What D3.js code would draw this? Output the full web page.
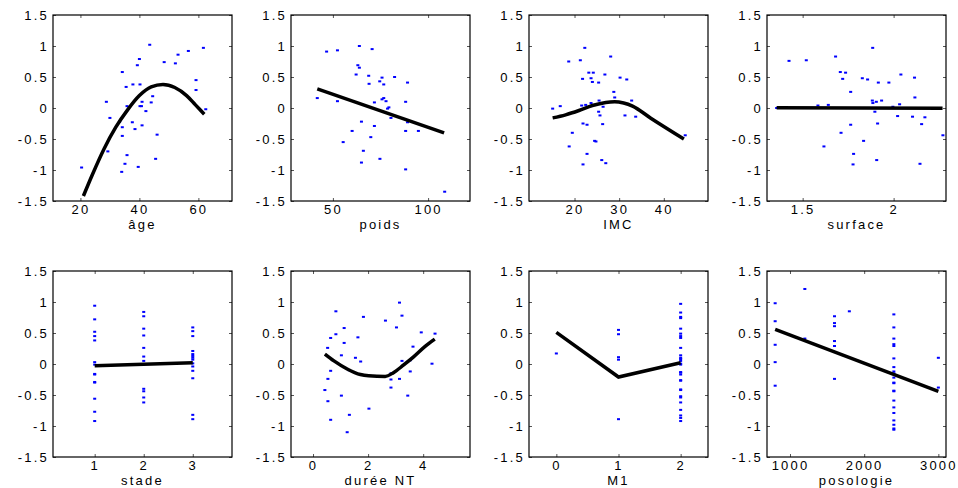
<!DOCTYPE html>
<html>
<head>
<meta charset="utf-8">
<script src="https://cdn.jsdelivr.net/npm/d3@7"></script>
<style>
  body { margin: 0; background: #fff; }
  svg text { font-family: "Liberation Sans", Arial, sans-serif; font-size: 13px; fill: #000; letter-spacing: 2.2px; }
</style>
</head>
<body>
<div id="chart"></div>
<script>
// partial residuals, one panel per variable
const yTicks = [-1.5, -1, -0.5, 0, 0.5, 1, 1.5];

const ageX = [20.4, 28.8, 30.0, 29.3, 33.3, 34.2, 34.2, 34.2, 34.0, 35.1, 35.5, 35.8, 35.8, 37.8, 37.6, 38.5, 39.3, 40.0, 40.2, 39.6, 40.2, 40.7, 40.9, 40.9, 42.2, 43.5, 44.0, 44.5, 45.5, 46.0, 48.4, 52.2, 53.1, 56.6, 59.2, 59.2, 61.7, 62.5];
const ageY = [-0.96, 0.10, -0.16, -0.70, -0.22, 0.58, -0.31, -0.45, -1.03, -0.90, 0.34, 0.03, -0.76, 0.38, -0.23, -0.34, 0.69, 0.79, 0.38, -0.95, 0.03, 0.03, 0.10, -0.28, -0.05, 1.02, 0.09, 0.19, -0.82, -0.43, 0.74, 0.72, 0.86, 0.92, 0.45, 0.29, 0.97, -0.02];
const ageFitX = [21, 24, 28, 32, 36, 40, 44, 48, 52, 56, 59, 62];
const ageFitY = [-1.42, -1.08, -0.66, -0.31, -0.03, 0.20, 0.34, 0.38, 0.33, 0.20, 0.05, -0.10];
const ageTicks = [20, 40, 60];

const poidsX = [41.8, 46.7, 52.4, 52.4, 55.4, 60.1, 62.2, 63.1, 63.9, 63.9, 65.0, 65.0, 66.0, 68.8, 69.0, 69.9, 70.6, 71.8, 71.8, 74.6, 74.7, 75.8, 75.8, 76.7, 76.7, 77.9, 78.7, 79.4, 80.5, 82.4, 88.2, 88.2, 88.2, 89.2, 89.2, 94.9, 108.7];
const poidsY = [0.16, 0.91, 0.93, 0.11, -0.55, -0.37, 0.54, 0.69, 0.65, 1.0, -0.22, -0.88, -0.69, 0.52, 0.39, -0.47, 0.95, 0.09, -0.29, 0.43, -0.82, 0.49, 0.14, 0.38, 0.16, 0.11, -0.01, 0.01, -0.16, 0.50, 0.10, -0.37, -0.99, 0.41, -0.23, -0.37, -1.35];
const poidsFitX = [41.8, 108.4];
const poidsFitY = [0.31, -0.40];
const poidsTicks = [50, 100];

const imcX = [15.1, 16.8, 18.7, 18.8, 19.5, 21.3, 21.6, 21.8, 21.9, 21.9, 22.3, 22.5, 22.8, 22.8, 23.2, 23.7, 23.7, 24.0, 24.2, 24.5, 24.8, 25.4, 25.5, 25.4, 25.7, 26.3, 26.4, 26.1, 26.8, 27.0, 28.1, 28.8, 29.0, 30.2, 31.3, 31.7, 32.8, 33.7, 44.8];
const imcY = [-0.01, 0.03, 0.75, -0.62, -0.40, 0.77, 0.04, 0.47, -0.25, -0.91, 0.97, 0.05, -0.27, -0.74, 0.57, 0.48, 0.08, 0.42, 0.57, -0.53, -0.54, 0.41, 0.12, -0.06, -0.12, -0.26, 0.02, -0.84, 0.54, -0.89, 0.83, 0.26, 0.17, 0.49, -0.12, 0.46, 0.12, -0.14, -0.44];
const imcFitX = [15.1, 18, 21, 24, 27, 29, 31, 33, 37, 44.5];
const imcFitY = [-0.16, -0.11, -0.04, 0.04, 0.09, 0.10, 0.08, 0.03, -0.16, -0.50];
const imcTicks = [20, 30, 40];

const surfX = [1.357, 1.425, 1.520, 1.584, 1.617, 1.641, 1.681, 1.707, 1.711, 1.720, 1.736, 1.764, 1.764, 1.780, 1.777, 1.828, 1.835, 1.857, 1.885, 1.883, 1.886, 1.897, 1.905, 1.907, 1.912, 1.916, 1.934, 1.974, 1.996, 2.022, 2.033, 2.040, 2.104, 2.115, 2.117, 2.145, 2.154, 2.172, 2.271];
const surfY = [0.0, 0.76, 0.77, 0.04, -0.62, 0.05, 0.83, 0.58, -0.40, 0.47, 0.57, 0.26, -0.27, -0.74, -0.91, 0.48, -0.53, 0.46, 0.97, 0.12, 0.08, -0.06, 0.10, -0.84, -0.25, 0.41, 0.12, 0.41, 0.02, -0.13, 0.06, 0.54, -0.14, 0.49, 0.17, -0.90, -0.26, -0.15, -0.44];
const surfFitX = [1.357, 2.269];
const surfFitY = [0.005, -0.005];
const surfTicks = [1.5, 2];

const stadeX = [1, 1, 1, 1, 1, 1, 1, 1, 1, 1, 1, 1, 1, 1,
  2, 2, 2, 2, 2, 2, 2, 2, 2, 2, 2,
  3, 3, 3, 3, 3, 3, 3, 3, 3, 3, 3, 3, 3, 3];
const stadeY = [0.94, 0.72, 0.52, 0.45, 0.38, 0.03, -0.01, -0.16, -0.17, -0.29, -0.30, -0.56, -0.77, -0.92,
  0.84, 0.77, 0.57, 0.46, 0.26, 0.12, 0.05, -0.40, -0.44, -0.54, -0.62,
  0.59, 0.53, 0.45, 0.21, 0.16, 0.13, 0.10, 0.07, 0.01, -0.04, -0.11, -0.23, -0.82, -0.89];
const stadeFitX = [1, 2, 3];
const stadeFitY = [-0.03, -0.005, 0.02];
const stadeTicks = [1, 2, 3];

const dureeX = [0.43, 0.53, 0.54, 0.54, 0.64, 0.64, 0.64, 0.83, 0.83, 1.03, 1.03, 1.13, 1.13, 1.24, 1.31, 1.32, 1.54, 1.63, 1.73, 1.83, 2.03, 2.63, 2.83, 2.83, 2.83, 3.03, 3.14, 3.14, 3.23, 3.23, 3.44, 3.53, 3.53, 3.63, 3.93, 4.32, 4.43];
const dureeY = [-0.42, 0.26, -0.24, -0.60, 0.42, -0.11, -0.90, 0.85, 0.48, 0.14, -0.51, 0.58, 0.34, -1.10, -0.10, -0.82, 0.10, 0.43, 0.04, 0.76, -0.72, 0.70, -0.15, -0.25, -0.38, 0.59, 0.99, -0.24, 0.78, 0.05, -0.51, 0.06, -0.12, 0.28, 0.51, 0.005, 0.49];
const dureeFitX = [0.43, 0.76, 1.24, 1.72, 2.02, 2.62, 2.92, 3.28, 3.64, 4.06, 4.42];
const dureeFitY = [0.16, 0.05, -0.08, -0.17, -0.19, -0.20, -0.14, -0.02, 0.11, 0.28, 0.40];
const dureeTicks = [0, 2, 4];

const m1X = [0, 1, 1, 1, 1, 1,
  2, 2, 2, 2, 2, 2, 2, 2, 2, 2, 2, 2, 2, 2, 2, 2, 2, 2, 2, 2, 2, 2, 2, 2, 2, 2, 2, 2, 2];
const m1Y = [0.17, 0.55, 0.48, 0.11, 0.07, -0.89,
  0.97, 0.83, 0.76, 0.74, 0.57, 0.49, 0.45, 0.42, 0.26, 0.14, 0.10, 0.08, 0.05, 0.005, -0.01, -0.13, -0.14, -0.17, -0.26, -0.27, -0.41, -0.42, -0.52, -0.54, -0.62, -0.74, -0.83, -0.87, -0.92];
const m1FitX = [0, 1, 2];
const m1FitY = [0.51, -0.21, 0.02];
const m1Ticks = [0, 1, 2];

const posoX = [800, 800, 800, 800, 800, 1200, 1200, 1600, 1600, 1600, 1600, 1600, 1600, 1800,
  2400, 2400, 2400, 2400, 2400, 2400, 2400, 2400, 2400, 2400, 2400, 2400, 2400, 2400, 2400, 2400, 2400, 2400, 2400, 2400, 2400,
  3000, 3000];
const posoY = [0.98, 0.69, 0.31, 0.03, -0.35, 1.21, 0.41, 0.77, 0.66, 0.61, 0.37, 0.29, -0.24, 0.85,
  0.80, 0.59, 0.41, 0.32, 0.29, 0.09, -0.05, -0.12, -0.15, -0.22, -0.30, -0.31, -0.43, -0.44, -0.59, -0.70, -0.79, -0.91, -0.98, -1.04, -1.06,
  0.10, -0.38];
const posoFitX = [800, 3000];
const posoFitY = [0.56, -0.44];
const posoTicks = [1000, 2000, 3000];

const width = 958;
const height = 488;
const colLeft = [53, 291, 529, 767];
const rowTop = [15, 271];
const pw = 179;
const ph = 186;

const panels = [
  { name: 'âge', xs: ageX, ys: ageY, fx: ageFitX, fy: ageFitY, ticks: ageTicks, dom: [10.7, 71.4], smooth: true },
  { name: 'poids', xs: poidsX, ys: poidsY, fx: poidsFitX, fy: poidsFitY, ticks: poidsTicks, dom: [28, 122] },
  { name: 'IMC', xs: imcX, ys: imcY, fx: imcFitX, fy: imcFitY, ticks: imcTicks, dom: [9.8, 49.9], smooth: true },
  { name: 'surface', xs: surfX, ys: surfY, fx: surfFitX, fy: surfFitY, ticks: surfTicks, dom: [1.304, 2.288] },
  { name: 'stade', xs: stadeX, ys: stadeY, fx: stadeFitX, fy: stadeFitY, ticks: stadeTicks, dom: [0.15, 3.8] },
  { name: 'durée NT', xs: dureeX, ys: dureeY, fx: dureeFitX, fy: dureeFitY, ticks: dureeTicks, dom: [-0.8, 5.7], smooth: true },
  { name: 'M1', xs: m1X, ys: m1Y, fx: m1FitX, fy: m1FitY, ticks: m1Ticks, dom: [-0.44, 2.44] },
  { name: 'posologie', xs: posoX, ys: posoY, fx: posoFitX, fy: posoFitY, ticks: posoTicks, dom: [690, 3103] }
];

const svg = d3.select('#chart')
  .append('svg')
  .attr('width', width)
  .attr('height', height)

const fmt = d => String(d);

panels.forEach((p, i) => {
  const left = colLeft[i % 4];
  const top = rowTop[Math.floor(i / 4)];

  const x = d3.scaleLinear().domain(p.dom).range([0, pw]);
  const y = d3.scaleLinear().domain([-1.5, 1.5]).range([ph, 0]);

  const g = svg.append('g')
    .attr('transform', `translate(${left}, ${top})`)

  // ticks on all four sides, pointing inward
  g.append('g')
    .attr('transform', `translate(0, ${ph})`)
    .call(d3.axisBottom(x).tickValues(p.ticks).tickFormat(fmt).tickSizeInner(-3).tickSizeOuter(0).tickPadding(4))
  g.append('g')
    .call(d3.axisTop(x).tickValues(p.ticks).tickFormat('').tickSizeInner(-3).tickSizeOuter(0))
  g.append('g')
    .call(d3.axisLeft(y).tickValues(yTicks).tickFormat(fmt).tickSizeInner(-3).tickSizeOuter(0).tickPadding(4))
  g.append('g')
    .attr('transform', `translate(${pw}, 0)`)
    .call(d3.axisRight(y).tickValues(yTicks).tickFormat('').tickSizeInner(-3).tickSizeOuter(0))

  g.selectAll('.domain').remove();
  g.selectAll('.tick line').attr('stroke', '#555');
  g.selectAll('.tick text').attr('font-size', null).attr('font-family', null);

  g.append('rect')
    .attr('width', pw)
    .attr('height', ph)
    .attr('fill', 'none')
    .attr('stroke', '#000')
    .attr('stroke-width', 1.2)

  g.selectAll('rect.pt')
    .data(p.xs)
    .enter()
    .append('rect')
    .attr('class', 'pt')
    .attr('x', d => x(d) - 1.5)
    .attr('y', (d, j) => y(p.ys[j]) - 1)
    .attr('width', 3)
    .attr('height', 2)
    .attr('fill', '#0000ff')

  const line = d3.line()
    .x(d => x(d[0]))
    .y(d => y(d[1]))
    .curve(p.smooth ? d3.curveMonotoneX : d3.curveLinear);

  g.append('path')
    .datum(p.fx.map((v, j) => [v, p.fy[j]]))
    .attr('d', line)
    .attr('fill', 'none')
    .attr('stroke', '#000')
    .attr('stroke-width', 3.5)

  g.append('text')
    .attr('x', pw / 2)
    .attr('y', ph + 28)
    .attr('text-anchor', 'middle')
    .text(p.name)
});
</script>
</body>
</html>
